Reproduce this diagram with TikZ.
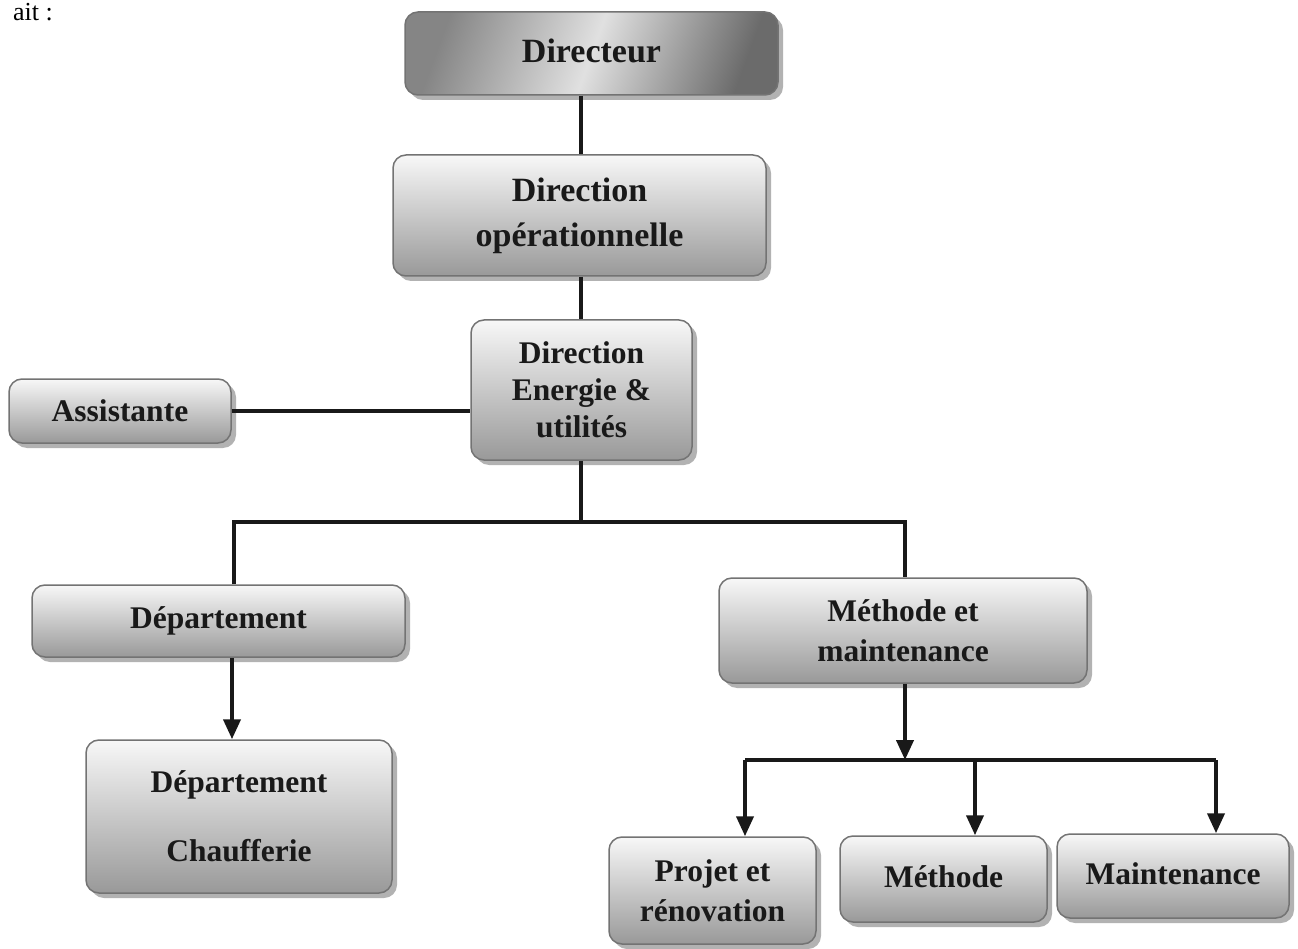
\documentclass[tikz,border=0pt]{standalone}
\usepackage{fontspec}
\setmainfont{Liberation Serif}
\usetikzlibrary{arrows.meta,shadows}

\tikzset{
  orgbox/.style={
    draw=black!55, line width=1.5pt, rounded corners=13pt,
    top color=black!3, bottom color=black!40,
    drop shadow={shadow xshift=5pt, shadow yshift=-5pt, fill=black!30, opacity=1},
    align=center, inner sep=0pt, text=black!90,
    font=\bfseries\fontsize{31.5}{40}\selectfont},
  bigtext/.style={font=\bfseries\fontsize{34}{45}\selectfont},
  metal/.style={left color=black!48, right color=black!58, middle color=black!12,
    shading angle=70},
  link/.style={line width=4pt, draw=black!90},
  arrowlink/.style={link, -{Triangle[length=20pt,width=17pt]}}
}

\begin{document}
\begin{tikzpicture}[x=1pt,y=-1pt]
  \useasboundingbox (0,0) rectangle (1298,949);

  % text line running above the chart
  \node[anchor=base east, inner sep=0pt, font=\fontsize{26}{30}\selectfont] (lead) at (53,21) {ait :};

  % boxes
  \node[orgbox, metal, bigtext, minimum width=373pt, minimum height=83pt] (dir) at (591.5,53.5) {\raisebox{5pt}{Directeur}};
  \node[orgbox, bigtext, minimum width=373pt, minimum height=121pt] (dirop) at (579.5,215.5) {Direction\\opérationnelle};
  \node[orgbox, font=\bfseries\fontsize{31.5}{37}\selectfont, minimum width=221pt, minimum height=140pt] (ener) at (581.5,390) {Direction\\Energie \&\\utilités};
  \node[orgbox, minimum width=222pt, minimum height=64pt] (asst) at (120,411) {Assistante};
  \node[orgbox, minimum width=373pt, minimum height=72pt] (dept) at (218.5,621) {Département};
  \node[orgbox, minimum width=306pt, minimum height=153pt] (chauf) at (239,816.5) {Département\\[29pt]Chaufferie};
  \node[orgbox, minimum width=368pt, minimum height=105pt] (meth) at (903,630.5) {Méthode et\\maintenance};
  \node[orgbox, minimum width=207pt, minimum height=107pt] (proj) at (712.5,890.5) {Projet et\\rénovation};
  \node[orgbox, minimum width=207pt, minimum height=86pt] (methd) at (943.5,879) {\raisebox{5pt}{Méthode}};
  \node[orgbox, minimum width=232pt, minimum height=84pt] (maint) at (1173,876) {\raisebox{5pt}{Maintenance}};

  % guide points for the connector runs
  \coordinate (trunk) at (581,0);
  \coordinate (busL) at (234,522);
  \coordinate (busR) at (905,522);
  \coordinate (dlink) at (232,0);
  \coordinate (mlink) at (905,760);
  \coordinate (bus2L) at (745,760);
  \coordinate (bus2M) at (975,760);
  \coordinate (bus2R) at (1216,760);

  % upper chain
  \draw[link] (dir.south -| trunk) -- (dirop.north -| trunk);
  \draw[link] (dirop.south -| trunk) -- (ener.north -| trunk);
  \draw[link] (asst.east) -- (asst.east -| ener.west);
  \draw[link] (ener.south -| trunk) -- (busL -| trunk);
  \draw[link] (dept.north -| busL) -- (busL) -- (busR) -- (meth.north -| busR);

  % left branch
  \draw[arrowlink] (dept.south -| dlink) -- (chauf.north -| dlink);

  % right branch
  \draw[arrowlink] (meth.south -| mlink) -- (mlink);
  \draw[link] (bus2L) -- (bus2R);
  \draw[arrowlink] (bus2L) -- (proj.north -| bus2L);
  \draw[arrowlink] (bus2M) -- (methd.north -| bus2M);
  \draw[arrowlink] (bus2R) -- (maint.north -| bus2R);
\end{tikzpicture}
\end{document}
